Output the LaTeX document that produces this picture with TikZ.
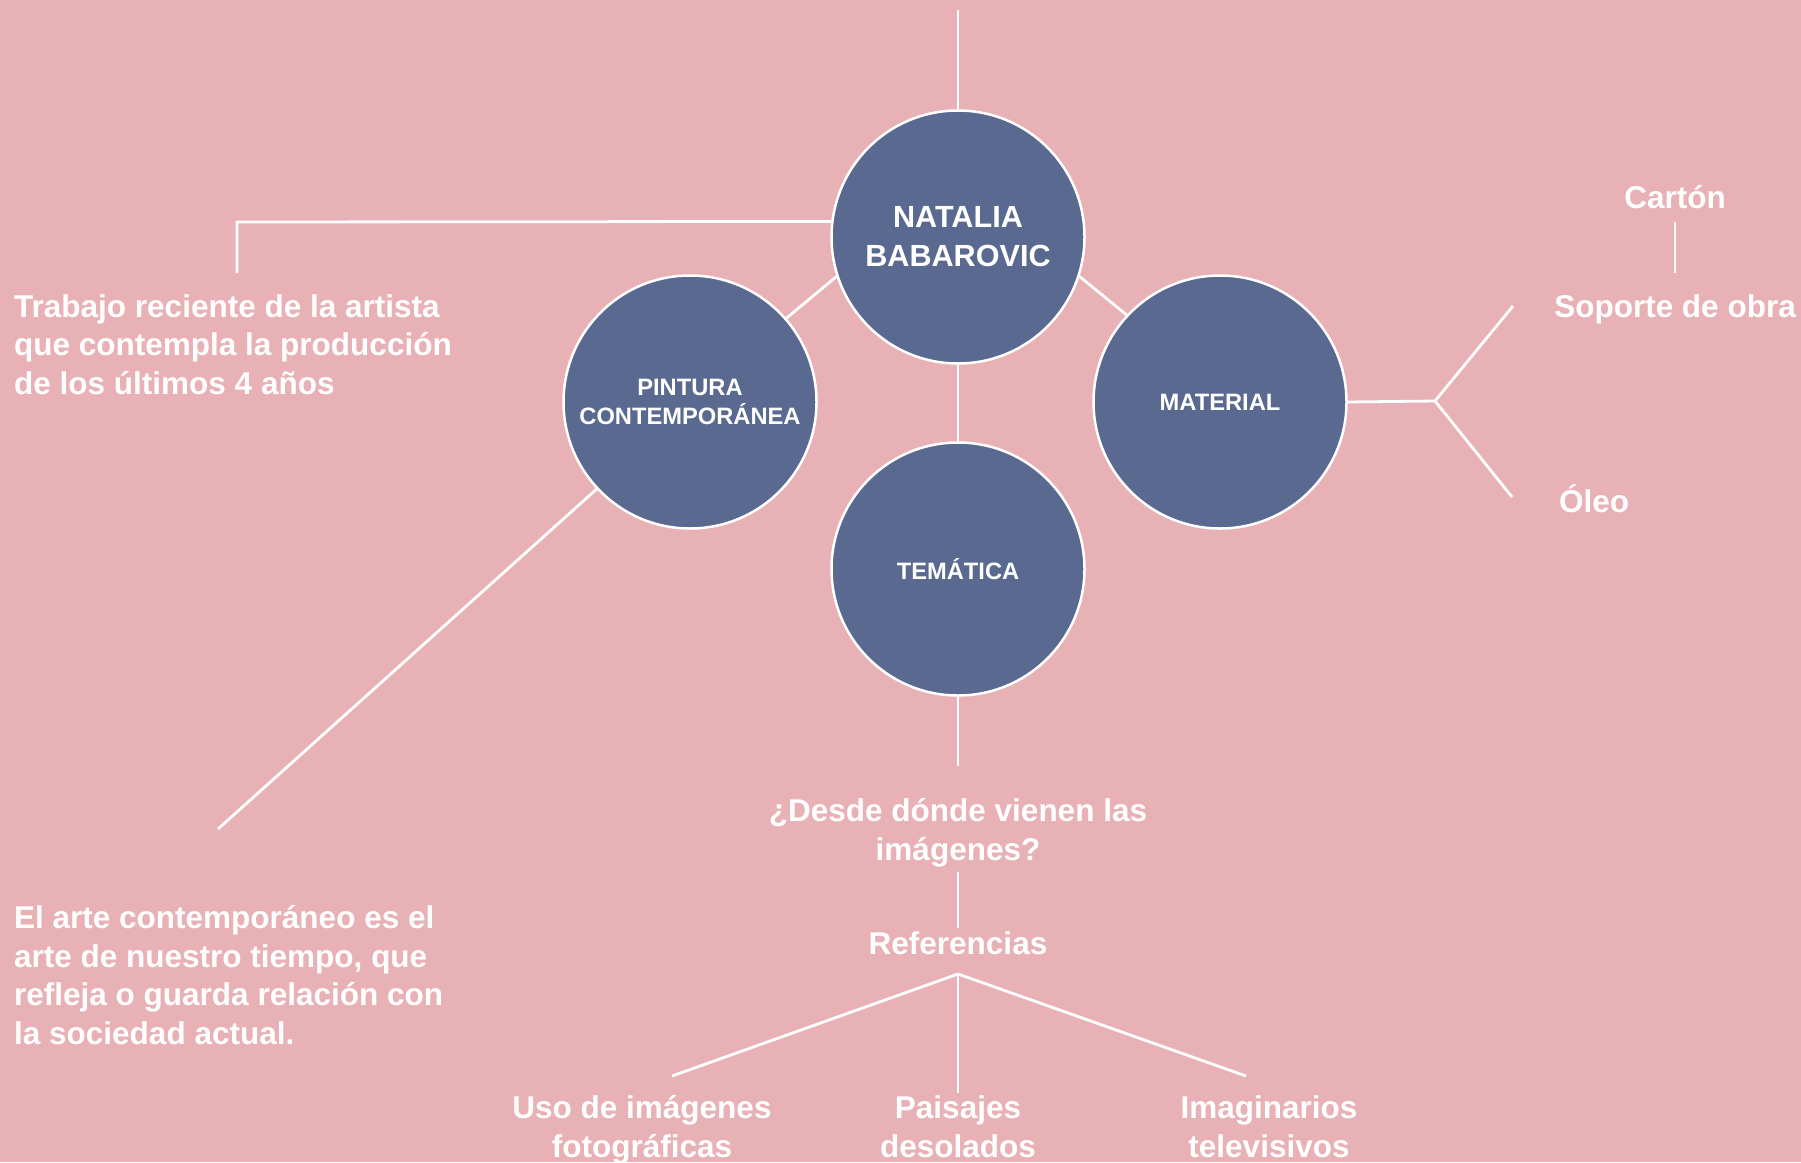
\documentclass[tikz,border=0pt]{standalone}
\usepackage{fontspec}
\setmainfont{Liberation Sans}
\definecolor{bgpink}{HTML}{E8B1B5}
\definecolor{navy}{HTML}{5A6990}
\begin{document}
\begin{tikzpicture}[x=1pt,y=-1pt,
  circ/.style={circle,minimum size=253pt,inner sep=0pt,fill=navy,draw=white,line width=2.5pt,text=white,align=center},
  conn/.style={draw=white,line width=2.8pt},
  lbl/.style={text=white,inner sep=0pt,font=\fontsize{31.5}{38.5}\selectfont\bfseries},
  big/.style={font=\fontsize{30.6}{39}\selectfont\bfseries},
  small/.style={font=\fontsize{23.7}{29}\selectfont\bfseries}]
\fill[bgpink] (0,0) rectangle (1801,1162);
\useasboundingbox (0,0) rectangle (1801,1162);
% circles
\node[circ,big] (nat) at (958,237) {NATALIA\\BABAROVIC};
\node[circ,small] (pin) at (690,402) {PINTURA\\CONTEMPORÁNEA};
\node[circ,small] (mat) at (1220,402) {MATERIAL};
\node[circ,small] (tem) at (958,569) {TEMÁTICA};
% coordinates
\coordinate (top) at (958,10);
\coordinate (lc) at (237,222);
\coordinate (ld) at (237,273);
\coordinate (pl) at (218,829);
\coordinate (td) at (958,766);
\coordinate (mf) at (1435,401);
\coordinate (mu) at (1513,306);
\coordinate (mdn) at (1512,497);
\coordinate (ct) at (1675,222);
\coordinate (cb) at (1675,273);
\coordinate (qa) at (958,872);
\coordinate (qb) at (958,928);
\coordinate (rf) at (958,974);
\coordinate (r1) at (672,1076);
\coordinate (r2) at (958,1093);
\coordinate (r3) at (1246,1076);
% text (base anchor = baseline of last line)
\node[lbl,anchor=base west,align=left] (t1) at (14,394) {Trabajo reciente de la artista\\que contempla la producción\\de los últimos 4 años};
\node[lbl,anchor=base west,align=left] (t2) at (14,1044) {El arte contemporáneo es el\\arte de nuestro tiempo, que\\refleja o guarda relación con\\la sociedad actual.};
\node[lbl,anchor=base] (carton) at (1675,208) {Cartón};
\node[lbl,anchor=base] (soporte) at (1675,317) {Soporte de obra};
\node[lbl,anchor=base west] (oleo) at (1559,512) {Óleo};
\node[lbl,anchor=base,align=center] (desde) at (958,860) {¿Desde dónde vienen las\\imágenes?};
\node[lbl,anchor=base] (refs) at (958,954) {Referencias};
\node[lbl,anchor=base,align=center] (uso) at (642,1157) {Uso de imágenes\\fotográficas};
\node[lbl,anchor=base,align=center] (pai) at (958,1157) {Paisajes\\desolados};
\node[lbl,anchor=base,align=center] (ima) at (1269,1157) {Imaginarios\\televisivos};
% connectors
\draw[conn] (top) -- (nat.north);
\draw[conn] (nat.173) -- (lc) -- (ld);
\draw[conn] (nat.198) -- (pin.41);
\draw[conn] (nat.342) -- (mat.137);
\draw[conn] (nat.south) -- (tem.north);
\draw[conn] (tem.south) -- (td);
\draw[conn] (pin.223) -- (pl);
\draw[conn] (mat.east) -- (mf) -- (mu);
\draw[conn] (mf) -- (mdn);
\draw[conn] (ct) -- (cb);
\draw[conn] (qa) -- (qb);
\draw[conn] (rf) -- (r1);
\draw[conn] (rf) -- (r2);
\draw[conn] (rf) -- (r3);
\end{tikzpicture}
\end{document}
